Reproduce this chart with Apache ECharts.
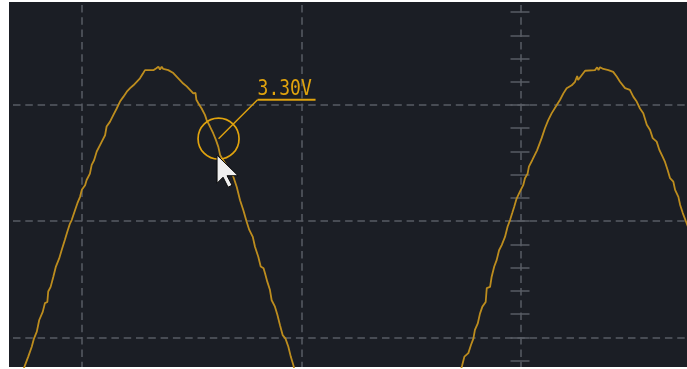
<!DOCTYPE html>
<html>
<head>
<meta charset="utf-8">
<script src="https://cdn.jsdelivr.net/npm/echarts@6/dist/echarts.min.js"></script>
<style>
html,body{margin:0;padding:0;background:#ffffff;}
#chart{width:687px;height:369px;}
</style>
</head>
<body>
<div id="chart"></div>
<script>
// ---- data (time in ms, voltage in V) ----
const timeA = [7.28, 7.41, 7.56, 7.72, 7.82, 7.95, 8.06, 8.22, 8.32, 8.43, 8.47, 8.58, 8.70, 8.82, 8.97, 9.08, 9.23, 9.34, 9.46, 9.54, 9.69, 9.80, 9.92, 10.00, 10.15, 10.22, 10.37, 10.45, 10.56, 10.68, 10.91, 11.06, 11.13, 11.28, 11.44, 11.59, 11.74, 11.89, 12.05, 12.20, 12.35, 12.50, 12.65, 12.80, 12.88, 13.26, 13.38, 13.45, 13.49, 13.56, 13.64, 13.71, 13.94, 14.17, 14.32, 14.47, 14.62, 14.78, 14.93, 15.08, 15.18, 15.22, 15.31, 15.46, 15.61, 15.69, 15.84, 15.99, 16.11, 16.22, 16.30, 16.60, 16.90, 17.06, 17.21, 17.36, 17.51, 17.63, 17.79, 17.89, 18.04, 18.15, 18.28, 18.35, 18.45, 18.57, 18.65, 18.80, 18.91, 19.03, 19.15, 19.28, 19.41, 19.52, 19.64, 19.71];
const voltA = [-0.61, -0.48, -0.33, -0.16, -0.02, 0.10, 0.30, 0.44, 0.59, 0.61, 0.79, 0.87, 1.04, 1.22, 1.36, 1.50, 1.68, 1.82, 1.96, 2.02, 2.19, 2.31, 2.42, 2.54, 2.62, 2.71, 2.82, 2.97, 3.05, 3.20, 3.37, 3.48, 3.63, 3.71, 3.83, 3.94, 4.06, 4.14, 4.23, 4.29, 4.34, 4.40, 4.46, 4.55, 4.60, 4.60, 4.63, 4.64, 4.66, 4.61, 4.66, 4.62, 4.60, 4.55, 4.49, 4.43, 4.37, 4.32, 4.26, 4.20, 4.21, 4.09, 4.03, 3.94, 3.83, 3.74, 3.63, 3.51, 3.40, 3.28, 3.14, 2.95, 2.77, 2.59, 2.36, 2.19, 1.99, 1.85, 1.73, 1.56, 1.39, 1.22, 1.19, 1.10, 0.96, 0.82, 0.64, 0.53, 0.39, 0.21, 0.04, -0.02, -0.16, -0.33, -0.48, -0.60];
const timeB = [27.23, 27.33, 27.43, 27.61, 27.73, 27.84, 27.91, 28.04, 28.14, 28.25, 28.40, 28.45, 28.60, 28.67, 28.79, 28.90, 29.01, 29.13, 29.28, 29.40, 29.51, 29.61, 29.70, 29.81, 29.96, 30.11, 30.19, 30.31, 30.37, 30.52, 30.74, 30.95, 31.10, 31.25, 31.41, 31.64, 31.79, 31.94, 32.09, 32.32, 32.47, 32.57, 32.61, 32.70, 32.93, 33.38, 33.48, 33.54, 33.61, 33.76, 33.99, 34.21, 34.37, 34.52, 34.75, 34.97, 35.13, 35.28, 35.43, 35.58, 35.74, 35.89, 36.01, 36.19, 36.31, 36.46, 36.57, 36.69, 36.80, 36.95, 37.03, 37.18, 37.26, 37.38, 37.53, 37.71];
const voltB = [-0.61, -0.48, -0.33, -0.27, -0.13, -0.02, 0.13, 0.24, 0.41, 0.53, 0.61, 0.85, 0.87, 1.04, 1.22, 1.33, 1.50, 1.59, 1.73, 1.91, 2.02, 2.14, 2.25, 2.39, 2.51, 2.62, 2.74, 2.82, 2.94, 3.05, 3.22, 3.43, 3.60, 3.74, 3.86, 4.00, 4.09, 4.20, 4.29, 4.34, 4.40, 4.50, 4.43, 4.46, 4.59, 4.60, 4.65, 4.60, 4.65, 4.62, 4.60, 4.57, 4.49, 4.40, 4.29, 4.26, 4.14, 4.06, 3.94, 3.86, 3.66, 3.57, 3.43, 3.37, 3.23, 3.11, 3.02, 2.88, 2.74, 2.68, 2.54, 2.42, 2.28, 2.14, 1.99, 1.81];

// scope divisions
const timePerDiv = 10;     // ms / div
const voltPerDiv = 2;      // V / div
const gridTimeRange = [0, 40];
const gridVoltRange = [-2, 6];
const viewTime = [6.683, 37.572];
const viewVolt = [-0.509, 5.773];

// cursor readout
const markerTime = 16.23;
const markerVolt = 3.42;
const markerText = '3.30V';

// ---- styles ----
const BG = '#1b1e25';
const GRIDC = '#585c64';
const TRACE = '#bd8d1e';
const ANNO = '#e0a30e';
const dash = [7.5, 4.8];

const chart = echarts.init(document.getElementById('chart'), null, {renderer: 'canvas'});

const pairs = (t, v) => t.map((x, i) => [x, v[i]]);

const hiddenAxis = (extra) => Object.assign({
  type: 'value', show: false, splitLine: {show: false}
}, extra);

const option = {
  animation: false,
  backgroundColor: '#ffffff',
  grid: [
    {left: 9, right: 0, top: 2, bottom: 2, show: true, backgroundColor: BG, borderWidth: 0, containLabel: false, outerBoundsMode: 'none'},
    {left: -137.7, right: -53.3, top: 2, bottom: 2, containLabel: false, outerBoundsMode: 'none'},
    {left: 9, right: 0, top: -11.2, bottom: -84.6, containLabel: false, outerBoundsMode: 'none'},
    {left: 520.5, right: 156.5, top: -11.2, bottom: -84.6, containLabel: false, outerBoundsMode: 'none'}
  ],
  xAxis: [
    hiddenAxis({gridIndex: 0, min: viewTime[0], max: viewTime[1]}),
    {
      type: 'value', gridIndex: 1, min: gridTimeRange[0], max: gridTimeRange[1], interval: timePerDiv,
      axisLine: {show: false}, axisTick: {show: false}, axisLabel: {show: false},
      splitLine: {show: true, lineStyle: {color: GRIDC, width: 1.5, type: dash, dashOffset: 9.3}}
    },
    hiddenAxis({gridIndex: 2, min: 0, max: 1}),
    hiddenAxis({gridIndex: 3, min: 0, max: 1})
  ],
  yAxis: [
    hiddenAxis({gridIndex: 0, min: viewVolt[0], max: viewVolt[1]}),
    hiddenAxis({gridIndex: 1, min: 0, max: 1}),
    {
      type: 'value', gridIndex: 2, min: gridVoltRange[0], max: gridVoltRange[1], interval: voltPerDiv,
      axisLine: {show: false}, axisTick: {show: false}, axisLabel: {show: false},
      splitLine: {show: true, lineStyle: {color: GRIDC, width: 1.5, type: dash, dashOffset: 8.3}}
    },
    {
      type: 'value', gridIndex: 3, position: 'left', min: gridVoltRange[0], max: gridVoltRange[1], interval: voltPerDiv,
      axisLine: {show: false}, axisLabel: {show: false}, splitLine: {show: false},
      axisTick: {show: true, inside: false, length: 10, lineStyle: {color: GRIDC, width: 1.5}},
      minorTick: {show: true, splitNumber: 5, length: 10, lineStyle: {color: GRIDC, width: 1.5}}
    },
    {
      type: 'value', gridIndex: 3, position: 'left', min: gridVoltRange[0], max: gridVoltRange[1], interval: voltPerDiv,
      axisLine: {show: false}, axisLabel: {show: false}, splitLine: {show: false},
      axisTick: {show: true, inside: true, length: 9, lineStyle: {color: GRIDC, width: 1.5}},
      minorTick: {show: true, splitNumber: 5, length: 9, lineStyle: {color: GRIDC, width: 1.5}}
    }
  ],
  series: [
    {
      type: 'line', xAxisIndex: 0, yAxisIndex: 0, data: pairs(timeA, voltA),
      showSymbol: false, symbol: 'none', clip: true, silent: true, z: 5,
      lineStyle: {color: TRACE, width: 1.8}
    },
    {
      type: 'line', xAxisIndex: 0, yAxisIndex: 0, data: pairs(timeB, voltB),
      showSymbol: false, symbol: 'none', clip: true, silent: true, z: 5,
      lineStyle: {color: TRACE, width: 1.8}
    }
  ]
};
chart.setOption(option);

const p = chart.convertToPixel({gridIndex: 0}, [markerTime, markerVolt]);
const cx = p[0], cy = p[1];
const cursorShape = [[0,0],[0,28],[6,22],[11,32],[15,30],[10,20.5],[21,20.5]];
chart.setOption({
  graphic: [
    {type: 'circle', z: 100, silent: true, shape: {cx: cx, cy: cy, r: 20.5},
      style: {fill: 'none', stroke: ANNO, lineWidth: 1.7}},
    {type: 'line', z: 100, silent: true, shape: {x1: cx, y1: cy, x2: cx + 39, y2: cy - 39},
      style: {stroke: ANNO, lineWidth: 1.4}},
    {type: 'line', z: 100, silent: true, shape: {x1: cx + 39, y1: cy - 39, x2: cx + 97, y2: cy - 39},
      style: {stroke: ANNO, lineWidth: 2}},
    {type: 'text', z: 100, silent: true, x: cx + 39, y: cy - 49.5, scaleY: 1.22,
      style: {text: markerText, fill: ANNO, font: '18px "DejaVu Sans Mono", monospace',
        align: 'left', verticalAlign: 'middle', textAlign: 'left', textVerticalAlign: 'middle'}},
    {type: 'polygon', z: 110, silent: true, x: cx - 1.5, y: cy + 16.5,
      shape: {points: cursorShape},
      style: {fill: '#f0f0f0', stroke: '#0a0a0a', lineWidth: 1}}
  ]
});
</script>
</body>
</html>
